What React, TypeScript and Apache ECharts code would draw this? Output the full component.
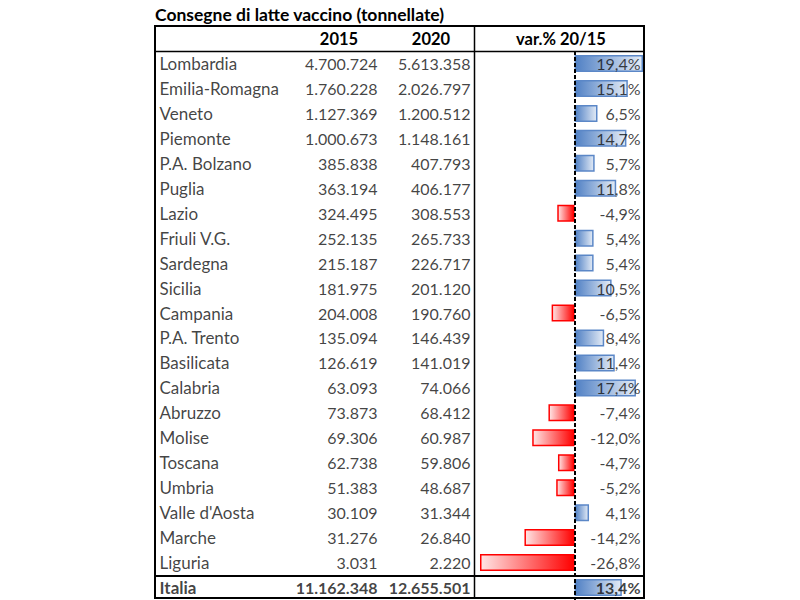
import React, { useEffect, useRef } from "react";
import * as echarts from "echarts";

const titleText = "Consegne di latte vaccino (tonnellate)";
const headers = ["2015", "2020", "var.% 20/15"];
const regions = [
  "Lombardia", "Emilia-Romagna", "Veneto", "Piemonte", "P.A. Bolzano", "Puglia", "Lazio",
  "Friuli V.G.", "Sardegna", "Sicilia", "Campania", "P.A. Trento", "Basilicata", "Calabria",
  "Abruzzo", "Molise", "Toscana", "Umbria", "Valle d'Aosta", "Marche", "Liguria", "Italia",
];
const values2015 = [
  4700724, 1760228, 1127369, 1000673, 385838, 363194, 324495, 252135, 215187, 181975, 204008,
  135094, 126619, 63093, 73873, 69306, 62738, 51383, 30109, 31276, 3031, 11162348,
];
const values2020 = [
  5613358, 2026797, 1200512, 1148161, 407793, 406177, 308553, 265733, 226717, 201120, 190760,
  146439, 141019, 74066, 68412, 60987, 59806, 48687, 31344, 26840, 2220, 12655501,
];
const varPct = [
  19.4, 15.1, 6.5, 14.7, 5.7, 11.8, -4.9, 5.4, 5.4, 10.5, -6.5, 8.4, 11.4, 17.4, -7.4, -12.0,
  -4.7, -5.2, 4.1, -14.2, -26.8, 13.4,
];

const FONT = "Lato";
const fmtInt = (v: number) => String(v).replace(/\B(?=(\d{3})+(?!\d))/g, ".");
const fmtPct = (v: number) => v.toFixed(1).replace(".", ",") + "%";

export default function App() {
  const ref = useRef<HTMLDivElement>(null);
  useEffect(() => {
    if (!ref.current) return;
    const chart = echarts.init(ref.current, null, { renderer: "svg" });
    const lastIdx = regions.length - 1;
    const isTotal = (i: number) => i === lastIdx;

    const textSeries = (
      xPos: number,
      texts: string[],
      side: "left" | "right",
      size: number
    ) => ({
      type: "scatter",
      xAxisIndex: 0,
      yAxisIndex: 0,
      symbolSize: 1,
      silent: true,
      itemStyle: { color: "rgba(0,0,0,0)" },
      data: texts.map((t, i) => ({
        value: [xPos, regions[i]],
        label: {
          show: true,
          position: side === "left" ? "right" : "left",
          distance: 0,
          formatter: t,
          fontFamily: FONT,
          fontSize: size,
          fontWeight: isTotal(i) ? "bold" : "normal",
          color: "#111",
        },
      })),
    });

    const posGrad = new echarts.graphic.LinearGradient(0, 0, 1, 0, [
      { offset: 0, color: "#5080C4" },
      { offset: 1, color: "#E3EBF6" },
    ]);
    const negGrad = new echarts.graphic.LinearGradient(0, 0, 1, 0, [
      { offset: 0, color: "#FFE6E6" },
      { offset: 1, color: "#FF0000" },
    ]);

    const hdr = (x: number, text: string) => ({
      type: "text",
      x,
      y: 39,
      style: {
        text,
        font: `bold 16.5px ${FONT}`,
        fill: "#000",
        textAlign: "center",
        textVerticalAlign: "middle",
      },
    });

    const option: any = {
      animation: false,
      backgroundColor: "#ffffff",
      grid: [
        { left: 0, right: 0, top: 51, height: 550 },
        { left: 480, right: 157, top: 51, height: 550 },
      ],
      xAxis: [
        { type: "value", gridIndex: 0, min: 0, max: 800, show: false },
        { type: "value", gridIndex: 1, min: "dataMin", max: "dataMax", show: false },
      ],
      yAxis: [
        { type: "category", gridIndex: 0, data: regions, inverse: true, show: false },
        { type: "category", gridIndex: 1, data: regions, inverse: true, show: false },
      ],
      series: [
        {
          type: "bar",
          xAxisIndex: 1,
          yAxisIndex: 1,
          barWidth: 17,
          silent: true,
          data: varPct.map((v) => ({
            value: v,
            itemStyle: {
              color: v >= 0 ? posGrad : negGrad,
              borderColor: v >= 0 ? "#5B87C7" : "#FF0000",
              borderWidth: 1.5,
            },
          })),
          markLine: {
            silent: true,
            symbol: "none",
            label: { show: false },
            lineStyle: { color: "#000", type: [4, 2], width: 2 },
            data: [{ xAxis: 0 }],
          },
          z: 1,
        },
        textSeries(159, regions, "left", 17),
        textSeries(378, values2015.map(fmtInt), "right", 16),
        textSeries(471, values2020.map(fmtInt), "right", 16),
        { ...textSeries(641, varPct.map(fmtPct), "right", 16), z: 5 },
      ],
      graphic: [
        {
          type: "text",
          left: 155,
          top: 5,
          style: { text: titleText, font: `bold 17.5px ${FONT}`, fill: "#000" },
        },
        hdr(339, headers[0]),
        hdr(431, headers[1]),
        hdr(561, headers[2]),
        {
          type: "rect",
          shape: { x: 155, y: 26, width: 489, height: 572 },
          style: { fill: "none", stroke: "#000", lineWidth: 2 },
          z: 10,
        },
        {
          type: "line",
          shape: { x1: 155, y1: 51.5, x2: 644, y2: 51.5 },
          style: { stroke: "#000", lineWidth: 1.5 },
          z: 10,
        },
        {
          type: "line",
          shape: { x1: 155, y1: 576, x2: 644, y2: 576 },
          style: { stroke: "#000", lineWidth: 2 },
          z: 10,
        },
        {
          type: "line",
          shape: { x1: 474.5, y1: 26, x2: 474.5, y2: 598 },
          style: { stroke: "#000", lineWidth: 1.5 },
          z: 10,
        },
      ],
    };
    chart.setOption(option);
    return () => chart.dispose();
  }, []);
  return (
    <div
      ref={ref}
      style={{ position: "fixed", left: 0, top: 0, width: 800, height: 600 }}
    />
  );
}
